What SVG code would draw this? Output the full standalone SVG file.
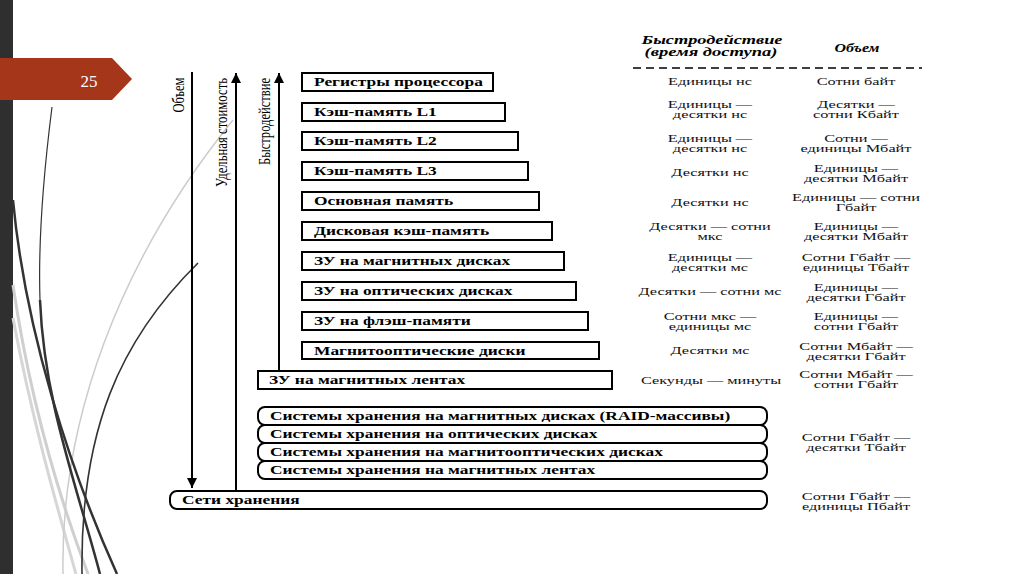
<svg xmlns="http://www.w3.org/2000/svg" width="1024" height="574" viewBox="0 0 1024 574">
<defs>
<style>
.bx{fill:#fff;stroke:#000;stroke-width:2}
.bt{font-family:"Liberation Serif",serif;font-weight:bold;font-size:12px;fill:#000}
.ct{font-family:"Liberation Serif",serif;font-size:11px;fill:#111;text-anchor:middle}
.hd{font-family:"Liberation Serif",serif;font-weight:bold;font-style:italic;font-size:12.5px;fill:#000;text-anchor:middle}
.vl{font-family:"Liberation Serif",serif;font-size:16px;fill:#000;text-anchor:middle}
.ax{stroke:#000;stroke-width:2;fill:none}
</style>
<marker id="ah" viewBox="0 0 10 10" refX="10" refY="5" markerWidth="10" markerHeight="10" markerUnits="userSpaceOnUse" orient="auto">
<path d="M0,0 L10,5 L0,10 z" fill="#000"/>
</marker>
</defs>
<rect width="1024" height="574" fill="#fff"/>
<g id="decor">
<rect x="0" y="0" width="13" height="574" fill="#2f2f2f"/>
<path d="M13,285 C 30,400 60,500 88,574" stroke="#cfcfcf" stroke-width="3" fill="none"/>
<path d="M13,318 C 32,420 58,510 76,574" stroke="#d6d6d6" stroke-width="3" fill="none"/>
<path d="M63,574 C 60,420 120,260 233,120" stroke="#cccccc" stroke-width="1.5" fill="none"/>
<path d="M82,574 C 80,430 120,340 198,263" stroke="#333" stroke-width="1.6" fill="none"/>
<path d="M13,200 C 25,330 70,470 117,574" stroke="#333" stroke-width="2.5" fill="none"/>
<path d="M52,107 C 44,170 38,240 40,300" stroke="#333" stroke-width="1.2" fill="none"/>
<path d="M40,300 C 44,400 75,480 100,574" stroke="#333" stroke-width="2.5" fill="none"/>
<polygon points="0,58 112,58 132,79 112,100 0,100" fill="#a5361a"/>
<text x="89" y="87" font-family="Liberation Serif,serif" font-size="17" fill="#fff" text-anchor="middle">25</text>
</g>
<g id="axes">
<line class="ax" x1="192" y1="72" x2="192" y2="488" marker-end="url(#ah)"/>
<line class="ax" x1="236" y1="490" x2="236" y2="73" marker-end="url(#ah)"/>
<line class="ax" x1="279" y1="371" x2="279" y2="73" marker-end="url(#ah)"/>
<text class="vl" transform="translate(184,95) rotate(-90)" textLength="35" lengthAdjust="spacingAndGlyphs">Объем</text>
<text class="vl" transform="translate(227,132.5) rotate(-90)" textLength="109" lengthAdjust="spacingAndGlyphs">Удельная стоимость</text>
<text class="vl" transform="translate(270,121.5) rotate(-90)" textLength="87" lengthAdjust="spacingAndGlyphs">Быстродействие</text>
</g>
<g id="header">
<text class="hd" x="712" y="44"><tspan textLength="141" lengthAdjust="spacingAndGlyphs">Быстродействие</tspan><tspan x="711" y="56" textLength="133" lengthAdjust="spacingAndGlyphs">(время доступа)</tspan></text>
<text class="hd" x="857" y="52" textLength="45" lengthAdjust="spacingAndGlyphs">Объем</text>
<line x1="633" y1="68" x2="922" y2="68" stroke="#000" stroke-width="1.5" stroke-dasharray="8,5"/>
</g>
<g id="n1"><rect class="bx" x="302" y="73" width="191" height="18"/><text class="bt" transform="translate(314,86) scale(1.45,1)">Регистры процессора</text></g>
<g id="n2"><rect class="bx" x="302" y="103" width="203" height="18"/><text class="bt" transform="translate(314,116) scale(1.45,1)">Кэш-память L1</text></g>
<g id="n3"><rect class="bx" x="302" y="132" width="216" height="18"/><text class="bt" transform="translate(314,145) scale(1.45,1)">Кэш-память L2</text></g>
<g id="n4"><rect class="bx" x="302" y="162" width="226" height="18"/><text class="bt" transform="translate(314,175) scale(1.45,1)">Кэш-память L3</text></g>
<g id="n5"><rect class="bx" x="302" y="192" width="237" height="18"/><text class="bt" transform="translate(314,205) scale(1.45,1)">Основная память</text></g>
<g id="n6"><rect class="bx" x="302" y="222" width="250" height="18"/><text class="bt" transform="translate(314,235) scale(1.45,1)">Дисковая кэш-память</text></g>
<g id="n7"><rect class="bx" x="302" y="252" width="262" height="18"/><text class="bt" transform="translate(314,265) scale(1.45,1)">ЗУ на магнитных дисках</text></g>
<g id="n8"><rect class="bx" x="302" y="282" width="274" height="18"/><text class="bt" transform="translate(314,295) scale(1.45,1)">ЗУ на оптических дисках</text></g>
<g id="n9"><rect class="bx" x="302" y="312" width="286" height="18"/><text class="bt" transform="translate(314,325) scale(1.45,1)">ЗУ на флэш-памяти</text></g>
<g id="n10"><rect class="bx" x="302" y="342" width="297" height="17"/><text class="bt" transform="translate(314,355) scale(1.45,1)">Магнитооптические диски</text></g>
<g id="n11"><rect class="bx" x="258" y="371" width="354" height="18"/><text class="bt" transform="translate(269,384) scale(1.45,1)">ЗУ на магнитных лентах</text></g>
<g id="n12"><rect class="bx" x="258" y="407" width="509" height="18" rx="7"/><text class="bt" transform="translate(270,420) scale(1.45,1)">Системы хранения на магнитных дисках (RAID-массивы)</text></g>
<g id="n13"><rect class="bx" x="258" y="425" width="509" height="18" rx="7"/><text class="bt" transform="translate(270,438) scale(1.45,1)">Системы хранения на оптических дисках</text></g>
<g id="n14"><rect class="bx" x="258" y="443" width="509" height="18" rx="7"/><text class="bt" transform="translate(270,456) scale(1.45,1)">Системы хранения на магнитооптических дисках</text></g>
<g id="n15"><rect class="bx" x="258" y="461" width="509" height="18" rx="7"/><text class="bt" transform="translate(270,474) scale(1.45,1)">Системы хранения на магнитных лентах</text></g>
<g id="n16"><rect class="bx" x="170" y="491" width="597" height="18" rx="7"/><text class="bt" transform="translate(182,504) scale(1.45,1)">Сети хранения</text></g>
<g id="speed">
<text class="ct" transform="translate(710,85) scale(1.48,1)">Единицы нс</text>
<text class="ct" transform="translate(710,107.5) scale(1.48,1)">Единицы —<tspan x="0" dy="11">десятки нс</tspan></text>
<text class="ct" transform="translate(710,141.5) scale(1.48,1)">Единицы —<tspan x="0" dy="11">десятки нс</tspan></text>
<text class="ct" transform="translate(710,176) scale(1.48,1)">Десятки нс</text>
<text class="ct" transform="translate(710,206) scale(1.48,1)">Десятки нс</text>
<text class="ct" transform="translate(710,229.5) scale(1.48,1)">Десятки — сотни<tspan x="0" dy="11">мкс</tspan></text>
<text class="ct" transform="translate(710,260.5) scale(1.48,1)">Единицы —<tspan x="0" dy="11">десятки мс</tspan></text>
<text class="ct" transform="translate(710,295) scale(1.48,1)">Десятки — сотни мс</text>
<text class="ct" transform="translate(710,319.5) scale(1.48,1)">Сотни мкс —<tspan x="0" dy="11">единицы мс</tspan></text>
<text class="ct" transform="translate(710,354) scale(1.48,1)">Десятки мс</text>
<text class="ct" transform="translate(711,384) scale(1.48,1)">Секунды — минуты</text>
</g>
<g id="volume">
<text class="ct" transform="translate(856,85) scale(1.48,1)">Сотни байт</text>
<text class="ct" transform="translate(856,107.5) scale(1.48,1)">Десятки —<tspan x="0" dy="11">сотни Кбайт</tspan></text>
<text class="ct" transform="translate(856,141.5) scale(1.48,1)">Сотни —<tspan x="0" dy="11">единицы Мбайт</tspan></text>
<text class="ct" transform="translate(856,171.5) scale(1.48,1)">Единицы —<tspan x="0" dy="11">десятки Мбайт</tspan></text>
<text class="ct" transform="translate(856,200.5) scale(1.48,1)">Единицы — сотни<tspan x="0" dy="11">Гбайт</tspan></text>
<text class="ct" transform="translate(856,229.5) scale(1.48,1)">Единицы —<tspan x="0" dy="11">десятки Мбайт</tspan></text>
<text class="ct" transform="translate(856,260.5) scale(1.48,1)">Сотни Гбайт —<tspan x="0" dy="11">единицы Тбайт</tspan></text>
<text class="ct" transform="translate(856,290.5) scale(1.48,1)">Единицы —<tspan x="0" dy="11">десятки Гбайт</tspan></text>
<text class="ct" transform="translate(856,319.5) scale(1.48,1)">Единицы —<tspan x="0" dy="11">сотни Гбайт</tspan></text>
<text class="ct" transform="translate(856,349.5) scale(1.48,1)">Сотни Мбайт —<tspan x="0" dy="11">десятки Гбайт</tspan></text>
<text class="ct" transform="translate(856,377.5) scale(1.48,1)">Сотни Мбайт —<tspan x="0" dy="11">сотни Гбайт</tspan></text>
<text class="ct" transform="translate(856,440.5) scale(1.48,1)">Сотни Гбайт —<tspan x="0" dy="11">десятки Тбайт</tspan></text>
<text class="ct" transform="translate(856,499.5) scale(1.48,1)">Сотни Гбайт —<tspan x="0" dy="11">единицы Пбайт</tspan></text>
</g>
</svg>
